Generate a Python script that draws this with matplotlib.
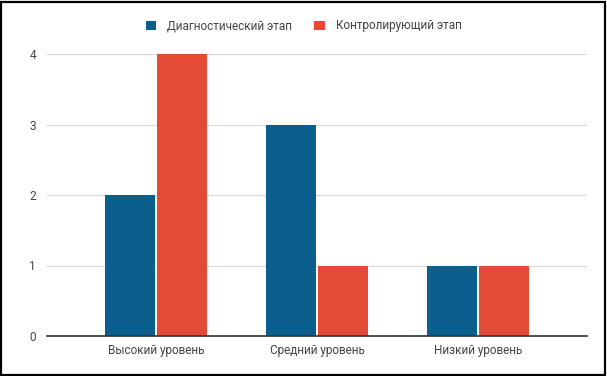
import matplotlib
matplotlib.use("Agg")
import matplotlib.pyplot as plt
from matplotlib.patches import Rectangle
import numpy as np

categories = ["Высокий уровень", "Средний уровень", "Низкий уровень"]
diagnostic = [2, 3, 1]
control = [4, 1, 1]
series_names = ["Диагностический этап", "Контролирующий этап"]
yticks = [0, 1, 2, 3, 4]

blue = "#0b5f8f"
red = "#e34b37"
text_color = "#444444"

plt.rcParams['font.family'] = ['Roboto', 'DejaVu Sans']

fig = plt.figure(figsize=(6.07, 3.76), dpi=100)
ax = fig.add_axes([47/607, 1-336/376, 540/607, 282/376])

x = np.arange(len(categories))
w = 0.31
off = 0.161
ax.bar(x - off, diagnostic, width=w, color=blue, label=series_names[0], zorder=3)
ax.bar(x + off, control, width=w, color=red, label=series_names[1], zorder=3)

ax.set_xlim(-0.677, 2.677)
ax.set_ylim(0, 4)
ax.set_yticks(yticks)
ax.set_xticks(x)
ax.set_xticklabels(categories)
ax.tick_params(axis='both', length=0, labelsize=8.5, colors=text_color)
ax.tick_params(axis='y', pad=8)
ax.tick_params(axis='x', pad=6)
ax.grid(axis='y', color='#d9d9d9', linewidth=0.9, zorder=0)
for s in ['top', 'right', 'left']:
    ax.spines[s].set_visible(False)
ax.spines['bottom'].set_color('#333333')
ax.spines['bottom'].set_linewidth(1.2)
ax.spines['bottom'].set_zorder(4)

leg = fig.legend(loc='center', bbox_to_anchor=(0.5, 1-26/376), ncol=2, frameon=False,
                 fontsize=8.5, handlelength=0.9, handleheight=0.9, columnspacing=1.9,
                 handletextpad=0.9)
for t in leg.get_texts():
    t.set_color(text_color)

fig.patches.append(Rectangle((0.0015, 0.002), 0.995, 0.994, transform=fig.transFigure,
                             fill=False, edgecolor='black', linewidth=1.6))

fig.savefig("out.png", dpi=100)
